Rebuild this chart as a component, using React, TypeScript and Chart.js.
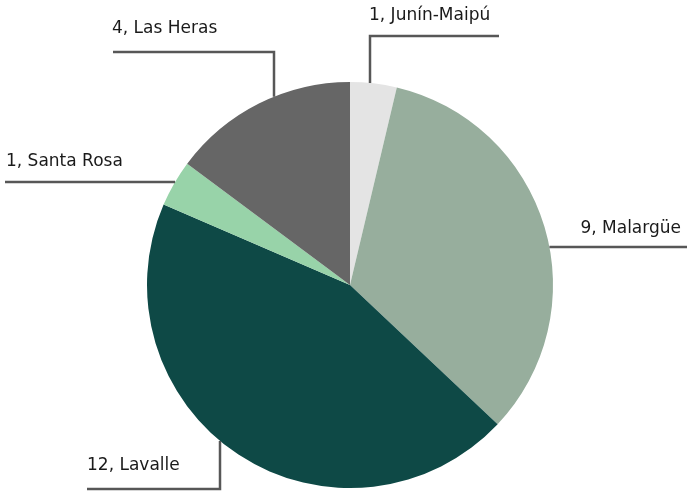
import React, { useEffect, useRef } from "react";
import { Chart, registerables } from "chart.js";

Chart.register(...registerables);

const categories = ["Junín-Maipú", "Malargüe", "Lavalle", "Santa Rosa", "Las Heras"];
const values = [1, 9, 12, 1, 4];
const colors = ["#e4e4e4", "#97ae9d", "#0e4946", "#98d3a9", "#666666"];

// Leader layout: kind "v" = vertical line at x then horizontal to endX at y; "h" = horizontal at y to endX
const leaders = [
  { kind: "v", side: "top", x: 370, y: 36, endX: 499, textX: 369, textY: 16, align: "left" },
  { kind: "h", side: "right", x: 0, y: 247, endX: 687, textX: 681, textY: 229, align: "right" },
  { kind: "v", side: "bottom", x: 220, y: 489, endX: 87, textX: 87, textY: 466, align: "left" },
  { kind: "h", side: "left", x: 0, y: 182, endX: 5, textX: 6, textY: 162, align: "left" },
  { kind: "v", side: "top", x: 274, y: 52, endX: 113, textX: 112, textY: 29, align: "left" },
];

const leaderPlugin = {
  id: "leaders",
  afterDatasetsDraw(chart: any) {
    const meta = chart.getDatasetMeta(0);
    const ctx = chart.ctx;
    const arc0 = meta.data[0];
    const cx = arc0.x, cy = arc0.y, r = arc0.outerRadius;
    ctx.save();
    ctx.strokeStyle = "#575757";
    ctx.lineWidth = 2.5;
    ctx.lineJoin = "miter";
    ctx.font = "17px 'DejaVu Sans', sans-serif";
    ctx.fillStyle = "#1a1a1a";
    ctx.textBaseline = "middle";
    leaders.forEach((L, i) => {
      ctx.beginPath();
      if (L.kind === "v") {
        const dx = L.x - cx;
        const dy = Math.sqrt(Math.max(0, r * r - dx * dx));
        const ay = L.side === "top" ? cy - dy : cy + dy;
        ctx.moveTo(L.x, ay);
        ctx.lineTo(L.x, L.y);
        ctx.lineTo(L.endX, L.y);
      } else {
        const dy = L.y - cy;
        const dx = Math.sqrt(Math.max(0, r * r - dy * dy));
        const ax = L.side === "left" ? cx - dx : cx + dx;
        ctx.moveTo(ax, L.y);
        ctx.lineTo(L.endX, L.y);
      }
      ctx.stroke();
      ctx.textAlign = L.align;
      ctx.fillText(`${values[i]}, ${categories[i]}`, L.textX, L.textY);
    });
    ctx.restore();
  },
};

export default function App() {
  const ref = useRef<HTMLCanvasElement>(null);
  useEffect(() => {
    const chart = new Chart(ref.current!, {
      type: "pie",
      data: {
        labels: categories,
        datasets: [{ data: values, backgroundColor: colors, borderWidth: 0 }],
      },
      options: {
        animation: false,
        responsive: false,
        layout: { padding: { left: 147, right: 134, top: 82, bottom: 3 } },
        plugins: { legend: { display: false }, tooltip: { enabled: false } },
      },
      plugins: [leaderPlugin],
    });
    return () => chart.destroy();
  }, []);
  return (
    <div style={{ position: "fixed", left: 0, top: 0, width: 687, height: 491, background: "#fff" }}>
      <canvas ref={ref} width={687} height={491} style={{ width: 687, height: 491 }} />
    </div>
  );
}
